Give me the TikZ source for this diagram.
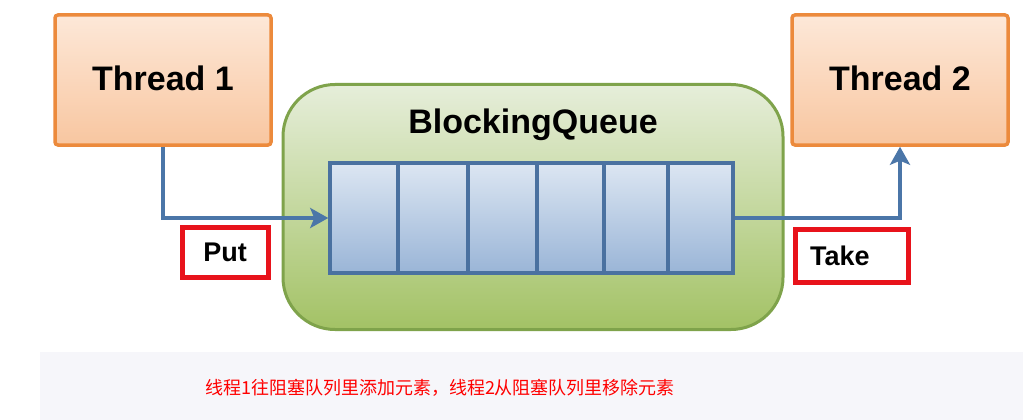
\documentclass[tikz,border=0pt]{standalone}
\usepackage{fontspec}
\setmainfont{Liberation Sans}
\newfontfamily\cjk{Noto Sans CJK SC}
\usetikzlibrary{arrows.meta,positioning}
\definecolor{orfillA}{HTML}{FDE8D8}
\definecolor{orfillB}{HTML}{F8C6A0}
\definecolor{ordraw}{HTML}{EC8A3C}
\definecolor{grA}{HTML}{E6EEDA}
\definecolor{grB}{HTML}{A3C265}
\definecolor{grdraw}{HTML}{7FA34B}
\definecolor{blA}{HTML}{DCE6F2}
\definecolor{blB}{HTML}{9AB5D7}
\definecolor{bldraw}{HTML}{4A71A0}
\definecolor{arr}{HTML}{4B76A8}
\definecolor{redbox}{HTML}{E8131B}
\definecolor{band}{HTML}{F6F6FA}
\tikzset{
  thread/.style={draw=ordraw, line width=3.5pt, top color=orfillA, bottom color=orfillB,
    minimum width=216pt, minimum height=130pt, rounded corners=3pt,
    font=\fontsize{34}{40}\selectfont\bfseries, inner sep=0pt},
  holder/.style={draw=grdraw, line width=3pt, top color=grA, bottom color=grB,
    rounded corners=52pt, inner sep=0pt},
  cell/.style={draw=bldraw, line width=3.5pt, top color=blA, bottom color=blB,
    minimum height=110pt, inner sep=0pt},
  flow/.style={draw=arr, line width=4pt, -{Stealth[length=18pt,width=20pt,inset=4pt]}},
  tag/.style={draw=redbox, line width=5pt, fill=white, inner ysep=0pt,
    font=\fontsize{27}{32}\selectfont\bfseries},
}
\begin{document}
\begin{tikzpicture}[x=1pt,y=-1pt]
\useasboundingbox (0,0) rectangle (1023,420);
\fill[white] (0,0) rectangle (1023,420);
\fill[band] (40,352) rectangle (1023,420);

\node[holder, minimum width=500pt, minimum height=245pt] (bq) at (533,207) {};
\node[font=\fontsize{34}{40}\selectfont\bfseries] (bqlabel) at (533,125) {BlockingQueue};

\node[cell, minimum width=68pt] (c1) at (364,218) {};
\node[cell, minimum width=70pt] (c2) at (433,218) {};
\node[cell, minimum width=69pt] (c3) at (502.5,218) {};
\node[cell, minimum width=67pt] (c4) at (570.5,218) {};
\node[cell, minimum width=64pt] (c5) at (636,218) {};
\node[cell, minimum width=65pt] (c6) at (700.5,218) {};

\node[thread] (t1) at (163,80) {\raisebox{3pt}{Thread 1}};
\node[thread] (t2) at (900,80) {\raisebox{3pt}{Thread 2}};

\draw[flow] (t1.south) |- (c1.west);
\draw[flow] (c6.east) -| (t2.south);

\node[tag, minimum width=86pt, minimum height=50pt] (put) at (225,252) {Put};
\node[tag, minimum height=53pt, text width=83pt, inner xsep=15pt, align=left] (take) at (851.5,255.5) {Take};

\node[text=red, font=\cjk\fontsize{18}{22}\selectfont] (note) at (440,388) {线程1往阻塞队列里添加元素，线程2从阻塞队列里移除元素};
\end{tikzpicture}
\end{document}
